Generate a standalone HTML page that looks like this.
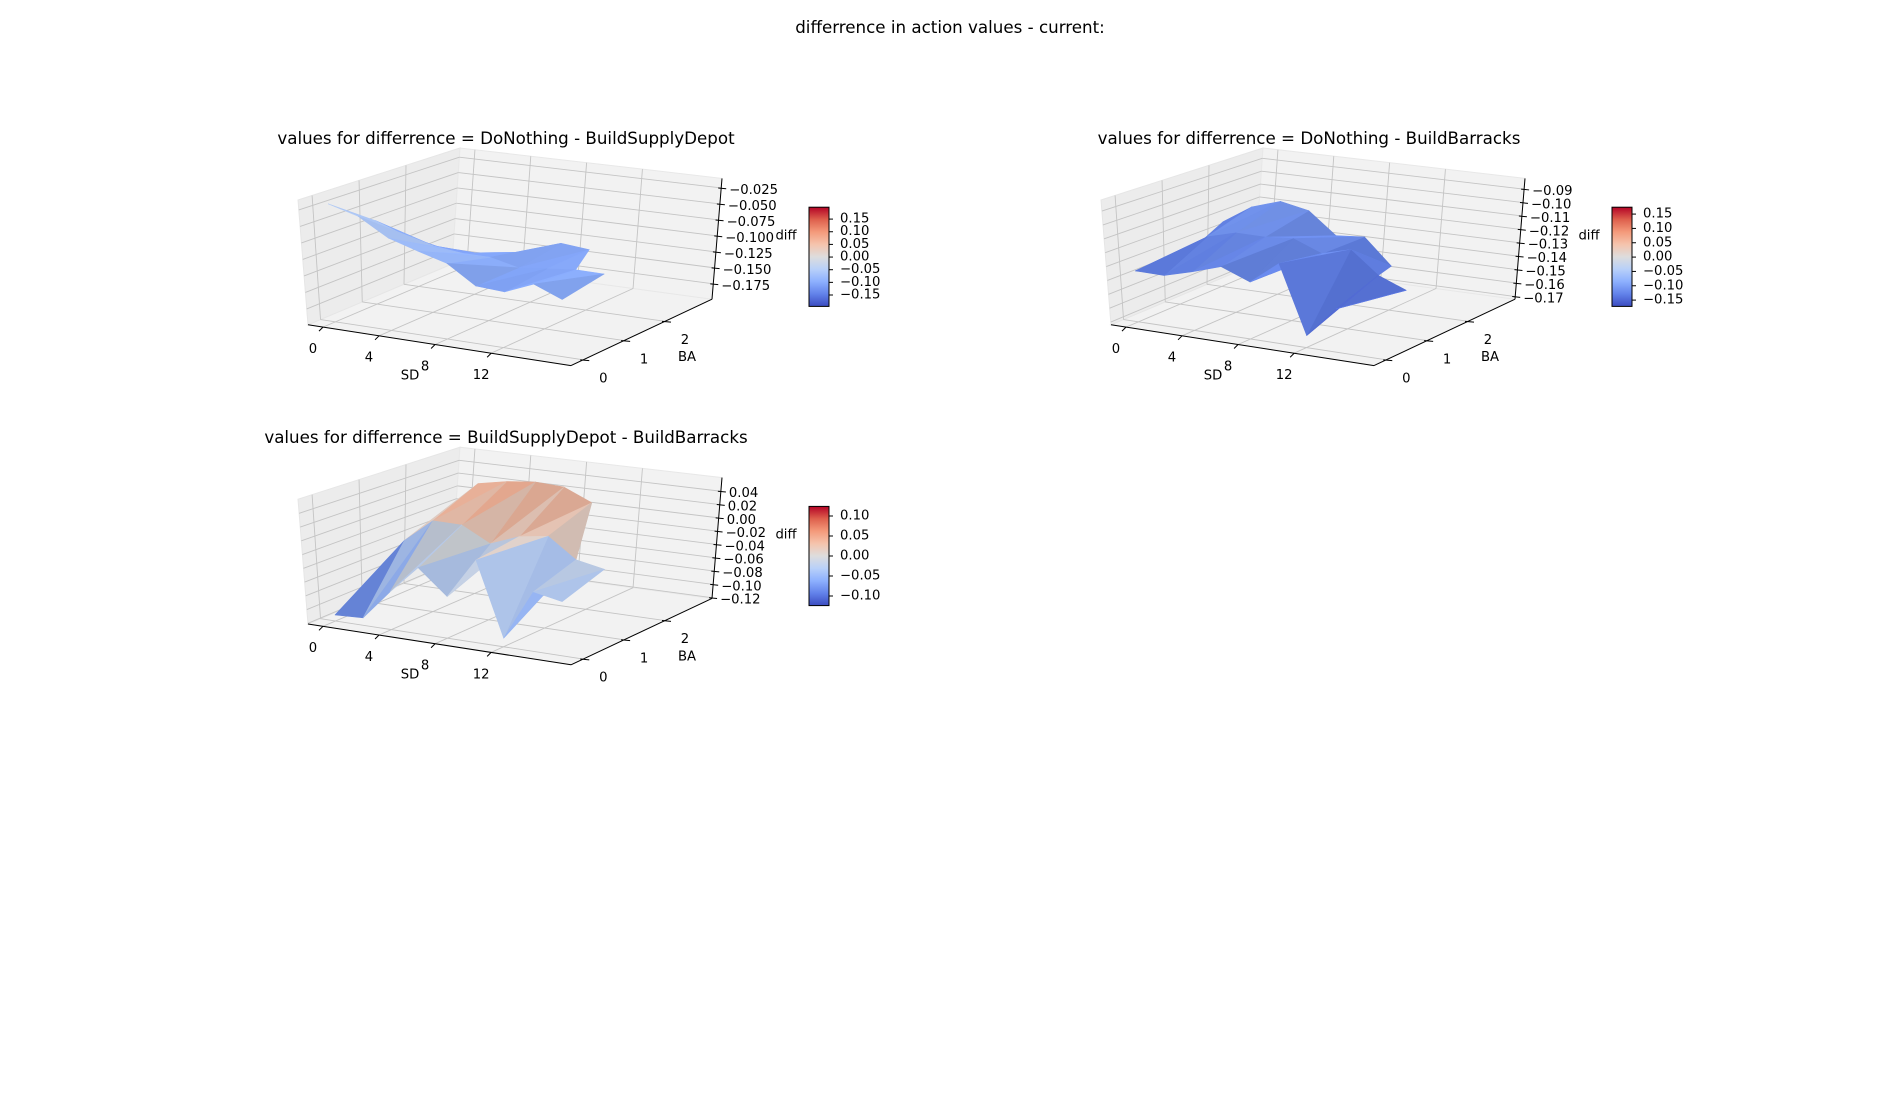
<!DOCTYPE html>
<html><head><meta charset="utf-8"><style>
html,body{margin:0;padding:0;background:#fff;}
svg{display:block;font-family:"DejaVu Sans","Liberation Sans",sans-serif;}
</style></head><body>
<svg id="fig" width="1900" height="1100" viewBox="0 0 1900 1100" xmlns="http://www.w3.org/2000/svg">
<rect width="1900" height="1100" fill="#fff"/>
<text x="950" y="33" font-size="16.7" text-anchor="middle">differrence in action values - current:</text>
<defs>
<linearGradient id="cw" x1="0" y1="1" x2="0" y2="0">
<stop offset="0" stop-color="rgb(59,76,192)"/><stop offset="0.125" stop-color="rgb(98,130,234)"/>
<stop offset="0.25" stop-color="rgb(141,176,254)"/><stop offset="0.375" stop-color="rgb(184,208,249)"/>
<stop offset="0.5" stop-color="rgb(221,221,221)"/><stop offset="0.625" stop-color="rgb(245,196,173)"/>
<stop offset="0.75" stop-color="rgb(244,154,123)"/><stop offset="0.875" stop-color="rgb(222,96,77)"/>
<stop offset="1" stop-color="rgb(180,4,38)"/>
</linearGradient>
</defs>
</svg>
<script>
// ---- data ----
const sdValues = [0,2,4,6,8,10,12,14,16];
const baValues = [0,1,2];
const sdTicks = [0,4,8,12];
const baTicks = [0,1,2];
// plot 1: DoNothing - BuildSupplyDepot
const p1_ba0 = [-0.019,-0.031,-0.057,-0.070,-0.082,-0.110,-0.112,-0.093,-0.110];
const p1_ba1 = [-0.069,-0.085,-0.095,-0.100,-0.100,-0.110,-0.105,-0.100,-0.100];
const p1_ba2 = [-0.131,-0.138,-0.144,-0.135,-0.120,-0.100,-0.104,null,null];
const p1_zTicks = [-0.175,-0.150,-0.125,-0.100,-0.075,-0.050,-0.025];
const p1_zLim = [-0.199,-0.010];
const p1_cLim = [-0.195,0.197];
const p1_cTicks = [-0.15,-0.10,-0.05,0.00,0.05,0.10,0.15];
// plot 2: DoNothing - BuildBarracks
const p2_ba0 = [-0.135,-0.135,-0.129,-0.122,-0.130,-0.113,-0.163,-0.140,-0.131];
const p2_ba1 = [-0.140,-0.119,-0.113,-0.113,-0.111,-0.119,-0.113,-0.129,-0.137];
const p2_ba2 = [-0.123,-0.109,-0.102,-0.106,-0.122,-0.120,-0.139,null,null];
const p2_zTicks = [-0.17,-0.16,-0.15,-0.14,-0.13,-0.12,-0.11,-0.10,-0.09];
const p2_zLim = [-0.172,-0.082];
const p2_cLim = [-0.172,0.174];
const p2_cTicks = [-0.15,-0.10,-0.05,0.00,0.05,0.10,0.15];
// plot 3: BuildSupplyDepot - BuildBarracks
const p3_ba0 = [-0.112,-0.110,-0.065,-0.023,-0.059,0.002,-0.108,-0.032,-0.040];
const p3_ba1 = [-0.081,-0.021,0.015,0.015,-0.007,0.010,0.017,-0.012,-0.020];
const p3_ba2 = [-0.040,0.002,0.046,0.055,0.060,0.058,0.040,null,null];
const p3_zTicks = [-0.12,-0.10,-0.08,-0.06,-0.04,-0.02,0.00,0.02,0.04];
const p3_zLim = [-0.121,0.0605];
const p3_cLim = [-0.124,0.124];
const p3_cTicks = [-0.10,-0.05,0.00,0.05,0.10];

const sdLim = [-1.07,17.7];
const baLim = [-0.3,3.15];

const NS = "http://www.w3.org/2000/svg";
const svg = document.getElementById('fig');
function mk(tag, attrs, parent){
  const e = document.createElementNS(NS, tag);
  for (const k in attrs) e.setAttribute(k, attrs[k]);
  (parent||svg).appendChild(e);
  return e;
}
const CW = [[0,59,76,192],[0.125,98,130,234],[0.25,141,176,254],[0.375,184,208,249],[0.5,221,221,221],[0.625,245,196,173],[0.75,244,154,123],[0.875,222,96,77],[1,180,4,38]];
function coolwarm(t){
  t=Math.max(0,Math.min(1,t));
  for(let i=0;i<CW.length-1;i++){
    const a=CW[i],b=CW[i+1];
    if(t<=b[0]){const f=(t-a[0])/(b[0]-a[0]);return [a[1]+(b[1]-a[1])*f,a[2]+(b[2]-a[2])*f,a[3]+(b[3]-a[3])*f];}
  }
  return CW[CW.length-1].slice(1);
}
// box corners (local frame)
const C = {
 '000':[308,381],'100':[571,432],'010':[452,305],'110':[712,349],
 '001':[298,225],'101':[578,282],'011':[460,160],'111':[722,198]
};
function tri(u,v,w){
  let x=0,y=0;
  for(const a of [0,1])for(const b of [0,1])for(const c of [0,1]){
    const wt=(a?u:1-u)*(b?v:1-v)*(c?w:1-w);
    const p=C[''+a+b+c]; x+=wt*p[0]; y+=wt*p[1];
  }
  return [x,y];
}

function drawPanel(cfg){
  const g = mk('g',{});
  
  
  const T = (p)=>[p[0]+cfg.dx, 0.8*p[1]+cfg.dy];
  const sdN = v=>(v-sdLim[0])/(sdLim[1]-sdLim[0]);
  const baN = v=>(v-baLim[0])/(baLim[1]-baLim[0]);
  const zN = v=>(v-cfg.zLim[0])/(cfg.zLim[1]-cfg.zLim[0]);
  const P = (u,v,w)=>T(tri(u,v,w));
  const pts = arr=>arr.map(p=>p[0].toFixed(1)+','+p[1].toFixed(1)).join(' ');
  // panes
  const floor = mk('polygon',{points:pts([P(0,0,0),P(1,0,0),P(1,1,0),P(0,1,0)]),fill:'#f2f2f2',stroke:'#ebebeb'},g);
   
  const lw = mk('polygon',{points:pts([P(0,0,0),P(0,1,0),P(0,1,1),P(0,0,1)]),fill:'#ececec',stroke:'#e6e6e6'},g);
   
  const bw = mk('polygon',{points:pts([P(0,1,0),P(1,1,0),P(1,1,1),P(0,1,1)]),fill:'#f2f2f2',stroke:'#e8e8e8'},g);
   
  const gl = (a,b)=>{const l=mk('line',{x1:a[0],y1:a[1],x2:b[0],y2:b[1],stroke:'#c4c4c4','stroke-width':0.9},g);
     };
  sdTicks.forEach(s=>{const u=sdN(s); gl(P(u,0,0),P(u,1,0)); gl(P(u,1,0),P(u,1,1));});
  baTicks.forEach(b=>{const v=baN(b); gl(P(0,v,0),P(1,v,0)); gl(P(0,v,0),P(0,v,1));});
  cfg.zTicks.forEach(z=>{const w=zN(z); gl(P(0,0,w),P(0,1,w)); gl(P(0,1,w),P(1,1,w));});
  // axis lines
  const ax=(a,b,n)=>{const l=mk('line',{x1:a[0],y1:a[1],x2:b[0],y2:b[1],stroke:'#000','stroke-width':1},g);
     };
  ax(P(0,0,0),P(1,0,0),'sd-axis-line'); ax(P(1,0,0),P(1,1,0),'ba-axis-line'); ax(P(1,1,0),P(1,1,1),'z-axis-line');
  const txt=(x,y,s,anchor,n,fs)=>{const t=mk('text',{x:x.toFixed(1),y:y.toFixed(1),'font-size':fs||13.2,'text-anchor':anchor,'dominant-baseline':'central'},g);
    t.textContent=s;   return t;};
  const fmt=(v,d)=>(v<0?'\u2212':'')+Math.abs(v).toFixed(d);
  sdTicks.forEach(s=>{const p=tri(sdN(s),0,0);
    const a=T(p),b=T([p[0]-4,p[1]+5]);
    const tk=mk('line',{x1:a[0],y1:a[1],x2:b[0],y2:b[1],stroke:'#000'},g);
     
    const q=T([p[0]-10,p[1]+28]); txt(q[0],q[1],String(s),'middle','sd-tick-label');});
  baTicks.forEach(b=>{const p=tri(1,baN(b),0);
    const a=T([p[0]-3,p[1]]),c=T([p[0]+6,p[1]+1]);
    const tk=mk('line',{x1:a[0],y1:a[1],x2:c[0],y2:c[1],stroke:'#000'},g);
     
    const q=T([p[0]+20,p[1]+24]); txt(q[0],q[1],String(b),'middle','ba-tick-label');});
  cfg.zTicks.forEach(z=>{const p=tri(1,1,zN(z));
    const a=T([p[0]-3,p[1]]),c=T([p[0]+5,p[1]+1]);
    const tk=mk('line',{x1:a[0],y1:a[1],x2:c[0],y2:c[1],stroke:'#000'},g);
     
    const q=T([p[0]+8,p[1]+3]); txt(q[0],q[1],fmt(z,cfg.zDec),'start','z-tick-label');});
  let q=T([410,445]); txt(q[0],q[1],'SD','middle','sd-axis-title');
  q=T([687,422]); txt(q[0],q[1],'BA','middle','ba-axis-title');
  q=T([786,270]); txt(q[0],q[1],'diff','middle','z-axis-title');
  // surface
  const rows=[cfg.ba0,cfg.ba1,cfg.ba2];
  const tris=[];
  for(let j=0;j<baValues.length-1;j++)for(let i=0;i<sdValues.length-1;i++){
    const corner=(ii,jj)=>{const z=rows[jj][ii]; return z==null?null:[sdValues[ii],baValues[jj],z];};
    const a=corner(i,j),b=corner(i+1,j),c=corner(i,j+1),d=corner(i+1,j+1);
    const list=[a,b,d,c].filter(x=>x);
    if(list.length===4){tris.push([a,b,d]);tris.push([a,d,c]);}
    else if(list.length===3){tris.push(list);}
  }
  const vm=cfg.cLim;
  tris.forEach(t=>{
    t.depth=t.reduce((s,p)=>s+0.866*baN(p[1])-0.5*sdN(p[0])-0.35*zN(p[2]),0)/3;
  });
  tris.sort((a,b)=>b.depth-a.depth);
  tris.forEach(t=>{
    const zm=(t[0][2]+t[1][2]+t[2][2])/3;
    let col=coolwarm((zm-vm[0])/(vm[1]-vm[0]));
    const A=t.map(p=>[sdN(p[0]),baN(p[1])*0.6,zN(p[2])*0.6]);
    const u=[A[1][0]-A[0][0],A[1][1]-A[0][1],A[1][2]-A[0][2]], v=[A[2][0]-A[0][0],A[2][1]-A[0][1],A[2][2]-A[0][2]];
    let n=[u[1]*v[2]-u[2]*v[1],u[2]*v[0]-u[0]*v[2],u[0]*v[1]-u[1]*v[0]];
    const ln=Math.hypot(n[0],n[1],n[2])||1; n=n.map(x=>x/ln); if(n[2]<0)n=n.map(x=>-x);
    const L=[-0.4,0.5,0.77]; const d=Math.abs(n[0]*L[0]+n[1]*L[1]+n[2]*L[2]);
    const f=0.88+0.14*d;
    col=col.map(c=>Math.min(255,Math.round(c*f)));
    const c='rgb('+col.join(',')+')';
    const poly=mk('polygon',{points:pts(t.map(p=>P(sdN(p[0]),baN(p[1]),zN(p[2])))),fill:c,stroke:c,'stroke-width':0.6,'stroke-linejoin':'round'},g);
     
  });
  // title
  const tt=mk('text',{x:cfg.titleX,y:cfg.titleY,'font-size':16.7,'text-anchor':'middle'},g);
  tt.textContent=cfg.title;  
  // colorbar
  const cb0=T([809,234]), cb1=T([829,358]);
  const cb=mk('rect',{x:cb0[0],y:cb0[1],width:cb1[0]-cb0[0],height:cb1[1]-cb0[1],fill:'url(#cw)',stroke:'#000','stroke-width':1},g);
   
  cfg.cTicks.forEach(v=>{const y=cb1[1]-(v-vm[0])/(vm[1]-vm[0])*(cb1[1]-cb0[1]);
    const tk=mk('line',{x1:cb1[0],y1:y,x2:cb1[0]+4,y2:y,stroke:'#000'},g);
     
    txt(cb1[0]+11,y,fmt(v,2),'start','colorbar-tick-label');});
}
drawPanel({name:'subplot-donothing-supplydepot',dx:0,dy:20,ba0:p1_ba0,ba1:p1_ba1,ba2:p1_ba2,zTicks:p1_zTicks,zLim:p1_zLim,cLim:p1_cLim,cTicks:p1_cTicks,zDec:3,title:'values for differrence = DoNothing - BuildSupplyDepot',titleX:506,titleY:144});
drawPanel({name:'subplot-donothing-barracks',dx:803,dy:20,ba0:p2_ba0,ba1:p2_ba1,ba2:p2_ba2,zTicks:p2_zTicks,zLim:p2_zLim,cLim:p2_cLim,cTicks:p2_cTicks,zDec:2,title:'values for differrence = DoNothing - BuildBarracks',titleX:1309,titleY:144});
drawPanel({name:'subplot-supplydepot-barracks',dx:0,dy:319.2,ba0:p3_ba0,ba1:p3_ba1,ba2:p3_ba2,zTicks:p3_zTicks,zLim:p3_zLim,cLim:p3_cLim,cTicks:p3_cTicks,zDec:2,title:'values for differrence = BuildSupplyDepot - BuildBarracks',titleX:506,titleY:443});
</script>
</body></html>
